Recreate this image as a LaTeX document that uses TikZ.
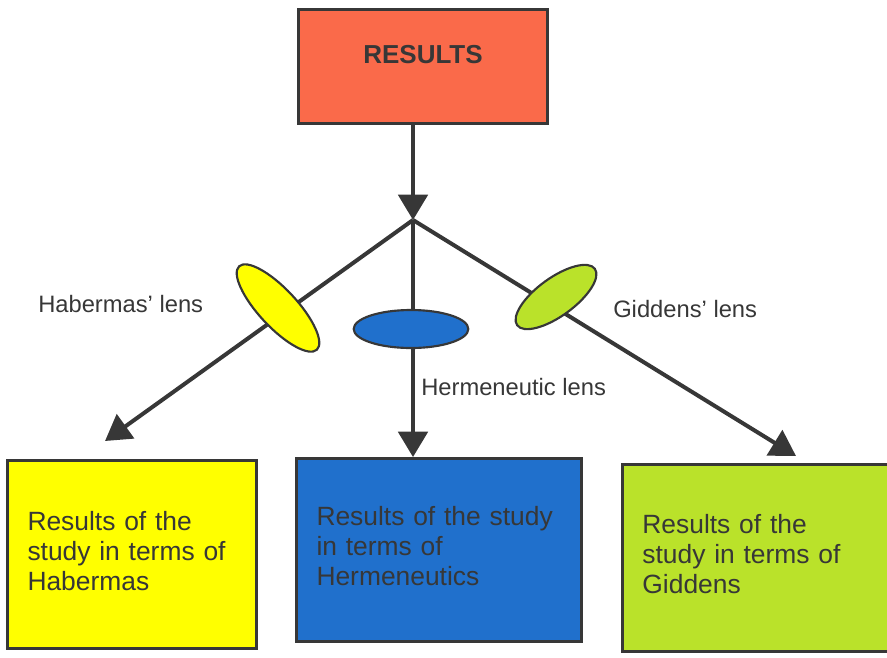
\documentclass[tikz,border=0pt]{standalone}
\usepackage{fontspec}
\setmainfont{Liberation Sans}
\usepackage{tikz}
\usetikzlibrary{arrows.meta}
\usetikzlibrary{shapes.geometric}

\definecolor{ink}{RGB}{55,55,55}
\definecolor{resorange}{RGB}{250,106,74}
\definecolor{lensyellow}{RGB}{255,255,0}
\definecolor{lensblue}{RGB}{32,112,204}
\definecolor{lensgreen}{RGB}{186,226,42}

\begin{document}
\begin{tikzpicture}[x=0.75pt,y=-0.75pt,
    box/.style={draw=ink, line width=2.2pt, text=ink, align=left, inner xsep=15pt, text depth=50.5pt,
        font=\fontsize{19.8}{22.5}\selectfont},
    lens/.style={ellipse, draw=ink, line width=1.6pt, inner sep=0pt, minimum height=28.5pt},
    lenslabel/.style={text=ink, inner sep=0pt, anchor=base west, font=\fontsize{17.8}{21}\selectfont},
    conn/.style={draw=ink, line width=3pt, -{Triangle[length=19pt,width=22pt]}}]
        \useasboundingbox (0,0) rectangle (887,657);
        \clip (0,0) rectangle (887,657);
        % boxes
        \node[box, fill=resorange, minimum width=187pt, minimum height=85.5pt] (results) at (423,66.5) {};
        \node[text=ink, inner sep=0pt, anchor=base, font=\bfseries\fontsize{19.5}{22}\selectfont] (restitle) at (423,63) {RESULTS};
        \node[box, fill=lensyellow, text width=156.75pt, minimum height=141pt] (habermas) at (132,554.5)
            {Results of the\\study in terms of\\Habermas};
        \node[box, fill=lensblue, text width=183.75pt, minimum height=137.25pt] (hermen) at (439,550)
            {Results of the study\\in terms of\\Hermeneutics};
        \node[box, fill=lensgreen, text width=182pt, minimum height=140.25pt] (giddens) at (763.75,558)
            {Results of the\\study in terms of\\Giddens};
        % connectors
        \coordinate (split) at (413,220);
        \coordinate (habtip) at (105,441);
        \coordinate (gidtip) at (796,456);
        \draw[conn] (results.south -| split) -- (split);
        \draw[conn] (split) -- (habtip);
        \draw[conn] (split) -- (split |- hermen.north);
        \draw[conn] (split) -- (gidtip);
        % lenses
        \node[lens, fill=lensyellow, minimum width=85.5pt, rotate=-47] (hablens) at (278,308) {};
        \node[lens, fill=lensblue, minimum width=86pt] (herlens) at (411,329) {};
        \node[lens, fill=lensgreen, minimum width=72pt, rotate=36] (gidlens) at (556,297) {};
        \node[lenslabel] (hablabel) at (38,312) {Habermas’ lens};
        \node[lenslabel] (herlabel) at (421,395) {Hermeneutic lens};
        \node[lenslabel] (gidlabel) at (613,317) {Giddens’ lens};
\end{tikzpicture}
\end{document}
